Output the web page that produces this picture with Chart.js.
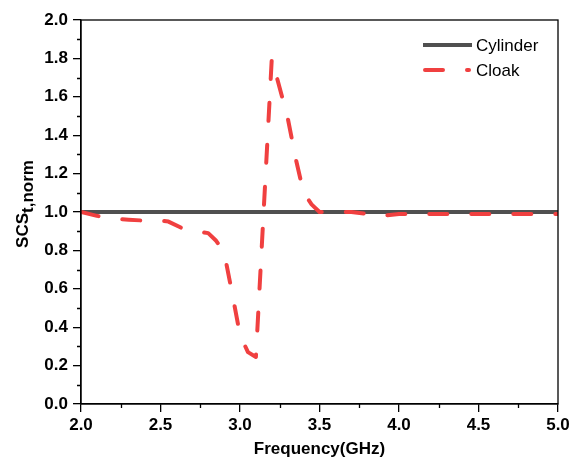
<!DOCTYPE html>
<html>
<head>
<meta charset="utf-8">
<script src="https://cdn.jsdelivr.net/npm/chart.js@4/dist/chart.umd.min.js"></script>
<style>
  html, body { margin: 0; padding: 0; background: #fff; }
  #c { display: block; }
</style>
</head>
<body>
<canvas id="c" width="573" height="461"></canvas>
<script>
// ---- data ----
const cloakFreq = [2.0, 2.1, 2.2, 2.3, 2.4, 2.5, 2.55, 2.65, 2.8, 2.85, 2.9, 2.95, 3.0, 3.05, 3.1, 3.2, 3.3, 3.35, 3.4, 3.45, 3.5, 3.6, 3.7, 3.8, 3.85, 3.9, 4.0, 4.2, 4.4, 4.6, 4.8, 5.0];
const cloakVal  = [1.0, 0.98, 0.965, 0.96, 0.955, 0.955, 0.95, 0.91, 0.89, 0.85, 0.79, 0.58, 0.36, 0.27, 0.245, 1.80, 1.49, 1.28, 1.10, 1.04, 1.0, 1.0, 1.0, 0.99, 0.98, 0.98, 0.99, 0.99, 0.99, 0.99, 0.99, 0.99];
const cylFreq = [2.0, 5.0];
const cylVal  = [1.0, 1.0];
const xTicks = [2.0, 2.5, 3.0, 3.5, 4.0, 4.5, 5.0];
const yTicks = [0.0, 0.2, 0.4, 0.6, 0.8, 1.0, 1.2, 1.4, 1.6, 1.8, 2.0];
const seriesNames = ['Cylinder', 'Cloak'];

const FONT = "'Liberation Sans', Arial, sans-serif";
const RED = '#f04040';
const GRAY = '#505050';

const toPts = (xs, ys) => xs.map((x, i) => ({x: x, y: ys[i]}));

const framePlugin = {
  id: 'frame',
  afterDraw(chart) {
    const ctx = chart.ctx;
    const a = chart.chartArea;
    const xs = chart.scales.x, ys = chart.scales.y;
    ctx.save();
    ctx.strokeStyle = '#000';
    ctx.lineWidth = 1.3;
    // frame
    ctx.strokeRect(a.left, a.top, a.right - a.left, a.bottom - a.top);
    // minor ticks
    ctx.beginPath();
    for (let i = 0; i < yTicks.length - 1; i++) {
      const v = (yTicks[i] + yTicks[i + 1]) / 2;
      const py = Math.round(ys.getPixelForValue(v)) + 0.5;
      ctx.moveTo(a.left, py); ctx.lineTo(a.left - 4, py);
    }
    for (let i = 0; i < xTicks.length - 1; i++) {
      const v = (xTicks[i] + xTicks[i + 1]) / 2;
      const px = Math.round(xs.getPixelForValue(v)) + 0.5;
      ctx.moveTo(px, a.bottom); ctx.lineTo(px, a.bottom + 4);
    }
    ctx.stroke();

    // y axis title with subscript
    ctx.fillStyle = '#000';
    ctx.translate(28, 204);
    ctx.rotate(-Math.PI / 2);
    ctx.font = 'bold 17px ' + FONT;
    const main = 'SCS';
    const wMain = ctx.measureText(main).width;
    ctx.font = 'bold 17px ' + FONT;
    const sub = 't,norm';
    const wSub = ctx.measureText(sub).width;
    const start = -(wMain + wSub) / 2;
    ctx.textBaseline = 'alphabetic';
    ctx.textAlign = 'left';
    ctx.font = 'bold 17px ' + FONT;
    ctx.fillText(main, start, 0);
    ctx.font = 'bold 17px ' + FONT;
    ctx.fillText(sub, start + wMain, 5);
    ctx.setTransform(1, 0, 0, 1, 0, 0);

    // x axis title
    ctx.font = 'bold 17px ' + FONT;
    ctx.textAlign = 'center';
    ctx.fillText('Frequency(GHz)', (a.left + a.right) / 2, 454);

    // legend
    ctx.lineWidth = 4;
    ctx.strokeStyle = GRAY;
    ctx.lineCap = 'butt';
    ctx.beginPath(); ctx.moveTo(423, 45); ctx.lineTo(472, 45); ctx.stroke();
    ctx.strokeStyle = RED;
    ctx.lineCap = 'round';
    ctx.setLineDash([18, 24]);
    ctx.beginPath(); ctx.moveTo(425, 70); ctx.lineTo(469, 70); ctx.stroke();
    ctx.setLineDash([]);
    ctx.font = '17px ' + FONT;
    ctx.textAlign = 'left';
    ctx.textBaseline = 'middle';
    ctx.fillStyle = '#000';
    ctx.fillText(seriesNames[0], 476, 46);
    ctx.fillText(seriesNames[1], 476, 71);
    ctx.restore();
  }
};

new Chart(document.getElementById('c'), {
  type: 'line',
  data: {
    datasets: [
      {
        label: seriesNames[0],
        data: toPts(cylFreq, cylVal),
        borderColor: GRAY,
        borderWidth: 4,
        pointRadius: 0,
        tension: 0,
        order: 1
      },
      {
        label: seriesNames[1],
        data: toPts(cloakFreq, cloakVal),
        borderColor: RED,
        borderWidth: 4,
        borderDash: [18, 24],
        borderCapStyle: 'round',
        borderJoinStyle: 'round',
        pointRadius: 0,
        tension: 0,
        order: 0
      }
    ]
  },
  options: {
    responsive: false,
    animation: false,
    devicePixelRatio: 1,
    layout: { padding: { left: 0, top: 20, right: 15, bottom: 0 } },
    plugins: { legend: { display: false }, tooltip: { enabled: false }, title: { display: false } },
    scales: {
      x: {
        type: 'linear',
        min: 2, max: 5,
        afterBuildTicks(s) { s.ticks = xTicks.map(v => ({value: v})); },
        afterFit(s) { s.height = 57; },
        grid: { drawOnChartArea: false, drawTicks: true, tickLength: 8, tickColor: '#000', tickWidth: 1.3, lineWidth: 1.3, color: '#000' },
        border: { display: true, color: '#000', width: 1.3 },
        ticks: {
          padding: 3,
          color: '#000',
          font: { family: FONT, size: 17, weight: 'bold' },
          callback: v => Number(v).toFixed(1),
          maxRotation: 0, autoSkip: false
        },
        title: { display: false }
      },
      y: {
        type: 'linear',
        min: 0, max: 2,
        afterBuildTicks(s) { s.ticks = yTicks.map(v => ({value: v})); },
        afterFit(s) { s.width = 81; },
        grid: { drawOnChartArea: false, drawTicks: true, tickLength: 8, tickColor: '#000', tickWidth: 1.3, lineWidth: 1.3, color: '#000' },
        border: { display: true, color: '#000', width: 1.3 },
        ticks: {
          padding: 5,
          color: '#000',
          font: { family: FONT, size: 17, weight: 'bold' },
          callback: v => Number(v).toFixed(1),
          autoSkip: false
        },
        title: { display: false }
      }
    }
  },
  plugins: [framePlugin]
});
</script>
</body>
</html>
